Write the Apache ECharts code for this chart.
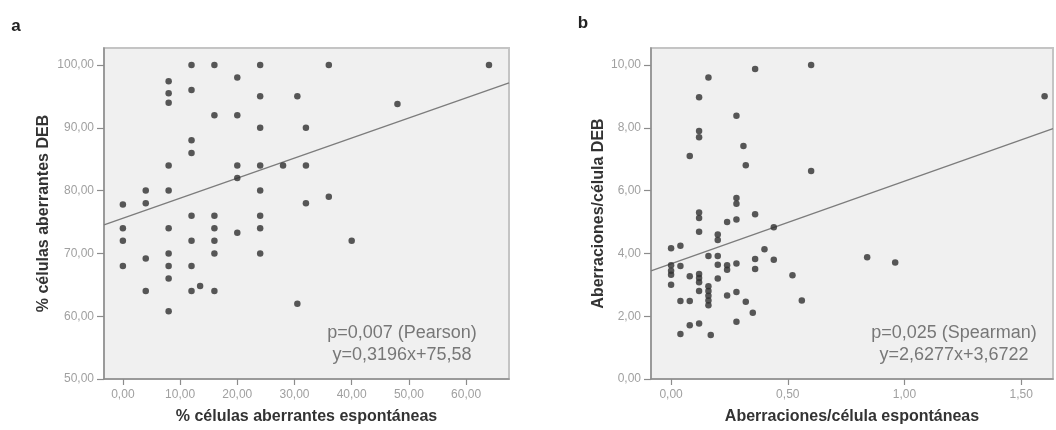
<!DOCTYPE html>
<html>
<head>
<meta charset="utf-8">
<script src="https://cdn.jsdelivr.net/npm/echarts@6/dist/echarts.min.js"></script>
<style>
html,body{margin:0;padding:0;background:#fff;}
#chart{width:1056px;height:430px;}
</style>
</head>
<body>
<div id="chart"></div>
<script>
// ---- Panel a: % células aberrantes ----
var pointsA = [
  [0,77.8],[0,74],[0,72],[0,68],
  [4,80],[4,78],[4,69.2],[4,64],
  [8,97.4],[8,95.5],[8,94],[8,84],[8,80],[8,74],[8,70],[8,68],[8,66],[8,60.8],
  [12,100],[12,96],[12,88],[12,86],[12,76],[12,72],[12,68],[12,64],
  [13.5,64.8],
  [16,100],[16,92],[16,76],[16,74],[16,72],[16,70],[16,64],
  [20,98],[20,92],[20,84],[20,82],[20,73.3],
  [24,100],[24,95],[24,90],[24,84],[24,80],[24,76],[24,74],[24,70],
  [28,84],
  [30.5,95],[30.5,62],
  [32,90],[32,84],[32,78],
  [36,100],[36,79],
  [40,72],
  [48,93.8],
  [64,100]
];
var fitLineA = [[-3.3,74.53],[67.5,97.15]];
var xTicksA = [0,10,20,30,40,50,60];
var yTicksA = [50,60,70,80,90,100];
var noteA = ['p=0,007 (Pearson)','y=0,3196x+75,58'];

// ---- Panel b: aberraciones/célula ----
var pointsB = [
  [0,4.16],[0,3.62],[0,3.45],[0,3.32],[0,3.0],
  [0.04,4.24],[0.04,3.6],[0.04,2.48],[0.04,1.43],
  [0.08,7.1],[0.08,3.27],[0.08,2.48],[0.08,1.71],
  [0.12,8.97],[0.12,7.9],[0.12,7.7],[0.12,5.3],[0.12,5.13],[0.12,4.69],[0.12,3.34],[0.12,3.22],[0.12,3.08],[0.12,2.8],[0.12,1.77],
  [0.16,9.6],[0.16,3.92],[0.16,2.95],[0.16,2.8],[0.16,2.65],[0.16,2.5],[0.16,2.35],
  [0.17,1.4],
  [0.2,4.6],[0.2,4.43],[0.2,3.92],[0.2,3.64],[0.2,3.2],
  [0.24,5.0],[0.24,3.62],[0.24,3.48],[0.24,2.66],
  [0.28,8.38],[0.28,5.76],[0.28,5.58],[0.28,5.08],[0.28,3.68],[0.28,2.77],[0.28,1.82],
  [0.31,7.42],[0.32,6.81],[0.32,2.46],
  [0.35,2.11],
  [0.36,9.87],[0.36,5.25],[0.36,3.82],[0.36,3.5],
  [0.4,4.13],
  [0.44,4.83],[0.44,3.8],
  [0.52,3.3],[0.56,2.5],
  [0.6,10],[0.6,6.62],
  [0.84,3.88],[0.96,3.71],[1.6,9]
];
var fitLineB = [[-0.086,3.446],[1.636,7.971]];
var xTicksB = [0,0.5,1,1.5];
var yTicksB = [0,2,4,6,8,10];
var noteB = ['p=0,025 (Spearman)','y=2,6277x+3,6722'];

var FONT = '"Liberation Sans", Arial, sans-serif';
function fmt(v){ return v.toFixed(2).replace('.', ','); }

function xAxisCfg(idx, min, max, ticks, name){
  return {
    gridIndex: idx, type: 'value', min: min, max: max,
    axisLine: {show: true, onZero: false, lineStyle: {color: '#8c8c8c', width: 1.5}},
    axisTick: {show: true, length: 6, customValues: ticks, lineStyle: {color: '#8c8c8c', width: 1.2}},
    axisLabel: {customValues: ticks, formatter: fmt, color: '#a0a0a0', fontSize: 12, fontFamily: FONT, margin: 10},
    splitLine: {show: false},
    name: name, nameLocation: 'middle', nameGap: 30,
    nameTextStyle: {color: '#333', fontSize: 16, fontWeight: 'bold', fontFamily: FONT}
  };
}
function yAxisCfg(idx, min, max, ticks, name, gap){
  return {
    gridIndex: idx, type: 'value', min: min, max: max,
    axisLine: {show: true, onZero: false, lineStyle: {color: '#8c8c8c', width: 1.5}},
    axisTick: {show: true, length: 7, customValues: ticks, lineStyle: {color: '#8c8c8c', width: 1.2}},
    axisLabel: {customValues: ticks, formatter: fmt, color: '#a0a0a0', fontSize: 12, fontFamily: FONT, margin: 10},
    splitLine: {show: false},
    name: name, nameLocation: 'middle', nameGap: gap, nameRotate: 90,
    nameTextStyle: {color: '#333', fontSize: 16, fontWeight: 'bold', fontFamily: FONT}
  };
}
function noteText(lines, cx){
  return lines.map(function(t, i){
    return {type: 'text', x: cx, y: 333 + i * 22,
      style: {text: t, fill: '#777', font: '18px ' + FONT, textAlign: 'center', textVerticalAlign: 'middle'}, z: 10};
  });
}

var chart = echarts.init(document.getElementById('chart'), null, {renderer: 'canvas'});
var option = {
  backgroundColor: '#ffffff',
  animation: false,
  grid: [
    {left: 104, top: 48, width: 405, height: 334, show: true, backgroundColor: '#f0f0f0', borderColor: '#c4c4c4', borderWidth: 2},
    {left: 651, top: 48, width: 402, height: 334, show: true, backgroundColor: '#f0f0f0', borderColor: '#c4c4c4', borderWidth: 2}
  ],
  xAxis: [
    xAxisCfg(0, -3.3, 67.5, xTicksA, '% células aberrantes espontáneas'),
    xAxisCfg(1, -0.086, 1.636, xTicksB, 'Aberraciones/célula espontáneas')
  ],
  yAxis: [
    yAxisCfg(0, 50, 102.7, yTicksA, '% células aberrantes DEB', 52),
    yAxisCfg(1, 0, 10.54, yTicksB, 'Aberraciones/célula DEB', 44)
  ],
  series: [
    {type: 'line', xAxisIndex: 0, yAxisIndex: 0, data: fitLineA, symbol: 'none', lineStyle: {color: '#7c7c7c', width: 1.3}, z: 2, silent: true},
    {type: 'scatter', xAxisIndex: 0, yAxisIndex: 0, data: pointsA, symbolSize: 6.5, itemStyle: {color: '#2f2f2f'}, z: 3},
    {type: 'line', xAxisIndex: 1, yAxisIndex: 1, data: fitLineB, symbol: 'none', lineStyle: {color: '#7c7c7c', width: 1.3}, z: 2, silent: true},
    {type: 'scatter', xAxisIndex: 1, yAxisIndex: 1, data: pointsB, symbolSize: 6.5, itemStyle: {color: '#2f2f2f'}, z: 3}
  ],
  graphic: [
    {type: 'text', x: 16, y: 26, style: {text: 'a', fill: '#222', font: 'bold 17px ' + FONT, textAlign: 'center', textVerticalAlign: 'middle'}},
    {type: 'text', x: 583, y: 23, style: {text: 'b', fill: '#222', font: 'bold 17px ' + FONT, textAlign: 'center', textVerticalAlign: 'middle'}}
  ].concat(noteText(noteA, 402)).concat(noteText(noteB, 954))
};
chart.setOption(option);
</script>
</body>
</html>
